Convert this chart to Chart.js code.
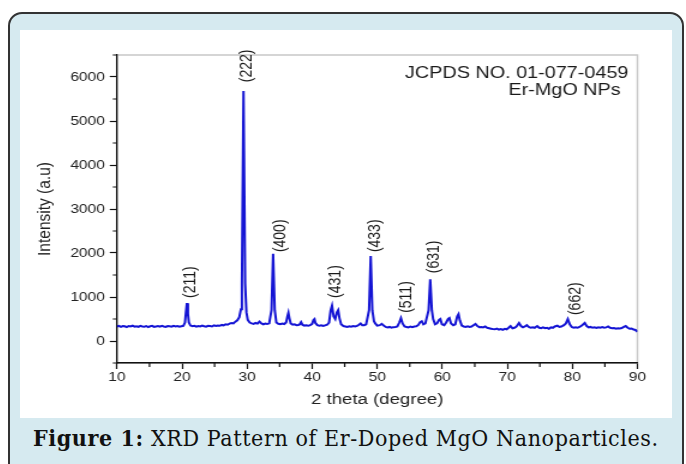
<!DOCTYPE html>
<html>
<head>
<meta charset="utf-8">
<title>XRD Pattern of Er-Doped MgO Nanoparticles</title>
<script src="https://cdn.jsdelivr.net/npm/chart.js@4/dist/chart.umd.min.js"></script>
<style>
  html, body { margin: 0; padding: 0; background: #fff; width: 686px; height: 464px; overflow: hidden; }
  .frame { position: absolute; left: 8px; top: 12px; width: 676px; height: 480px; box-sizing: border-box;
           border: 2px solid #333; border-radius: 14px; background: #d6eaf0; }
  .panel { position: absolute; left: 20px; top: 30px; width: 652px; height: 388px; background: #fff; overflow: hidden; }
  /* the original figure is stretched sideways, so the chart is drawn narrower and scaled */
  .stretch { position: absolute; left: 0; top: 0; width: 544px; height: 388px; transform: scaleX(1.2); transform-origin: 0 0; }
  .caption { position: absolute; left: 33px; top: 424px; font-size: 23px; letter-spacing: 0.6px; color: #111; white-space: nowrap;
             font-family: "DejaVu Serif Condensed", "DejaVu Serif", serif; font-stretch: condensed; }
  .caption b { font-weight: bold; }
</style>
</head>
<body>
<div class="frame"></div>
<div class="panel">
  <div class="stretch"><canvas id="xrdChart" width="544" height="388"></canvas></div>
</div>
<div class="caption"><b>Figure 1:</b> XRD Pattern of Er-Doped MgO Nanoparticles.</div>

<script>
// 2 theta positions (degree)
const twoTheta = [
  10.0, 10.3, 10.6, 10.9, 11.2, 11.5, 11.8, 12.1, 12.4, 12.7,
  13.0, 13.3, 13.6, 13.9, 14.2, 14.5, 14.8, 15.1, 15.4, 15.7,
  16.0, 16.3, 16.6, 16.9, 17.2, 17.5, 17.8, 18.1, 18.4, 18.7,
  19.0, 19.3, 19.6, 19.9, 20.2, 20.45, 20.6, 20.75, 20.9, 21.05,
  21.3, 21.6, 21.9, 22.2, 22.5, 22.8, 23.1, 23.4, 23.7, 24.0,
  24.3, 24.6, 24.9, 25.2, 25.5, 25.8, 26.1, 26.4, 26.7, 27.0,
  27.3, 27.6, 27.9, 28.2, 28.5, 28.8, 29.05, 29.2, 29.45, 29.7,
  29.9, 30.1, 30.4, 30.7, 31.0, 31.3, 31.6, 31.9,
  32.2, 32.5, 32.8, 33.1, 33.4, 33.75, 34.0, 34.25,
  34.5, 34.8, 35.1, 35.4, 35.7, 36.0, 36.2, 36.35, 36.5, 36.7,
  37.0, 37.3, 37.6, 37.9, 38.1, 38.3, 38.5, 38.8, 39.1, 39.4,
  39.7, 40.0, 40.2, 40.35, 40.5, 40.8, 41.1, 41.4, 41.7, 42.0,
  42.3, 42.6, 42.85, 43.05, 43.3, 43.55, 43.8, 44.0, 44.2, 44.45,
  44.8, 45.1, 45.4, 45.7, 46.0, 46.3, 46.6, 46.9, 47.2, 47.45,
  47.7, 48.0, 48.3, 48.75, 49.0, 49.25, 49.5, 49.7, 50.0,
  50.4, 50.7, 51.0, 51.3, 51.6, 51.9, 52.2, 52.5, 52.8, 53.1,
  53.4, 53.65, 53.9, 54.2, 54.5, 54.8, 55.1, 55.4, 55.7, 56.0,
  56.3, 56.6, 56.85, 57.1, 57.4, 57.9, 58.15, 58.4, 58.6,
  58.9, 59.2, 59.5, 59.7, 59.95, 60.3, 60.6, 60.9, 61.1, 61.35,
  61.7, 62.0, 62.3, 62.5, 62.7, 63.0, 63.3, 63.6, 63.9, 64.2,
  64.5, 64.8, 65.1, 65.4, 65.7, 66.0, 66.3, 66.6, 66.9, 67.2,
  67.5, 67.8, 68.1, 68.4, 68.7, 69.0, 69.3, 69.6, 69.9, 70.2,
  70.5, 70.8, 71.1, 71.4, 71.8, 72.1, 72.4, 72.7, 73.0, 73.3,
  73.6, 73.9, 74.2, 74.6, 74.9, 75.2, 75.5, 75.8, 76.1, 76.4,
  76.7, 77.0, 77.3, 77.7, 78.0, 78.3, 78.7, 79.0, 79.3, 79.6,
  79.9, 80.2, 80.5, 80.8, 81.1, 81.5, 81.9, 82.2, 82.5, 82.8,
  83.1, 83.4, 83.7, 84.0, 84.3, 84.6, 84.9, 85.2, 85.5, 85.8,
  86.1, 86.4, 86.7, 87.0, 87.3, 87.6, 87.9, 88.2, 88.5, 88.8,
  89.1, 89.4, 89.7, 90.0
];

// Intensity (a.u), one value per 2 theta position
const intensity = [
  330, 345, 320, 340, 335, 315, 340, 330, 350, 325,
  335, 320, 345, 330, 325, 340, 315, 335, 345, 320,
  330, 340, 325, 345, 330, 320, 340, 335, 325, 345,
  330, 340, 325, 335, 345, 420, 650, 860, 620, 420,
  350, 335, 345, 325, 340, 330, 350, 335, 325, 345,
  340, 330, 355, 340, 350, 345, 365, 355, 380, 370,
  395, 410, 400, 440, 470, 540, 720, 1300, 5680, 1300,
  650, 480, 420, 400, 390, 410, 395, 440,
  400, 380, 395, 385, 400, 700, 1980, 700,
  420, 390, 380, 395, 385, 420, 560, 640, 520, 400,
  370, 380, 360, 365, 380, 430, 370, 350, 355, 345,
  360, 390, 480, 500, 410, 360, 345, 355, 340, 355,
  370, 420, 700, 800, 560, 500, 650, 700, 520, 380,
  340, 330, 320, 335, 325, 340, 330, 345, 370, 400,
  360, 360, 380, 700, 1930, 700, 450, 400, 350,
  360, 390, 350, 320, 310, 320, 305, 315, 320, 330,
  420, 520, 400, 330, 320, 310, 330, 315, 330, 335,
  360, 430, 450, 380, 400, 700, 1400, 700, 500,
  380, 400, 480, 500, 380, 360, 420, 500, 520, 400,
  360, 380, 560, 610, 470, 350, 330, 320, 335, 320,
  330, 360, 390, 340, 315, 320, 310, 330, 300, 290,
  280, 270, 265, 280, 260, 270, 255, 275, 265, 300,
  340, 290, 300, 330, 410, 340, 310, 330, 360, 320,
  300, 310, 300, 340, 300, 290, 310, 290, 300, 280,
  310, 300, 330, 350, 320, 330, 360, 400, 500, 380,
  320, 300, 310, 300, 320, 360, 410, 340, 310, 320,
  300, 310, 295, 310, 300, 315, 300, 310, 330, 300,
  290, 295, 280, 290, 285, 295, 320, 340, 300, 280,
  285, 260, 250, 210
];

// Axis ticks
const xMajorTicks = [10, 20, 30, 40, 50, 60, 70, 80, 90];
const xMinorTicks = [15, 25, 35, 45, 55, 65, 75, 85];
const yMajorTicks = [0, 1000, 2000, 3000, 4000, 5000, 6000];
const yMinorTicks = [-500, 500, 1500, 2500, 3500, 4500, 5500, 6500];

// Miller index labels, anchored at (2 theta, intensity) of their lower end
const peakNames = ['(211)', '(222)', '(400)', '(431)', '(433)', '(511)', '(631)', '(662)'];
const peakLabelX = [21.3, 30.0, 35.1, 43.6, 49.8, 54.6, 58.8, 80.5];
const peakLabelY = [980, 5880, 2020, 980, 2020, 640, 1540, 590];

const noteLines = ['JCPDS NO. 01-077-0459', 'Er-MgO NPs'];

const FONT = '"Liberation Sans", Arial, sans-serif';

// Frame box, minor ticks, hkl labels and the JCPDS note
const decorPlugin = {
    id: 'decor',
    beforeDraw(chart) {
        const { ctx, chartArea: a } = chart;
        ctx.save();
        ctx.strokeStyle = '#c8c8c8';
        ctx.lineWidth = 1.5;
        ctx.strokeRect(a.left, a.top, a.right - a.left, a.bottom - a.top);
        ctx.restore();
    },
    afterDraw(chart) {
        const { ctx, chartArea: a, scales: { x, y } } = chart;
        ctx.save();

        ctx.strokeStyle = '#111';
        ctx.lineWidth = 1.2;
        ctx.beginPath();
        yMinorTicks.forEach(v => {
            const py = y.getPixelForValue(v);
            ctx.moveTo(a.left - 3.5, py);
            ctx.lineTo(a.left, py);
        });
        xMinorTicks.forEach(v => {
            const px = x.getPixelForValue(v);
            ctx.moveTo(px, a.bottom);
            ctx.lineTo(px, a.bottom + 4);
        });
        ctx.stroke();

        ctx.fillStyle = '#1a1a1a';
        ctx.font = '14px ' + FONT;
        ctx.textAlign = 'left';
        ctx.textBaseline = 'middle';
        peakNames.forEach((name, i) => {
            ctx.save();
            ctx.translate(x.getPixelForValue(peakLabelX[i]), y.getPixelForValue(peakLabelY[i]));
            ctx.rotate(-Math.PI / 2);
            ctx.fillText(name, 0, 0);
            ctx.restore();
        });

        ctx.font = '16.5px ' + FONT;
        ctx.textAlign = 'right';
        ctx.textBaseline = 'alphabetic';
        ctx.fillText(noteLines[0], a.right - 7.5, a.top + 23);
        ctx.fillText(noteLines[1], a.right - 14, a.top + 40);
        ctx.restore();
    }
};

Chart.defaults.font.family = FONT;
Chart.defaults.color = '#222';

new Chart(document.getElementById('xrdChart'), {
    type: 'line',
    data: {
        datasets: [{
            data: twoTheta.map((t, i) => ({ x: t, y: intensity[i] })),
            borderColor: '#1414d4',
            borderWidth: 2,
            pointRadius: 0,
            tension: 0,
            fill: false
        }]
    },
    options: {
        responsive: false,
        animation: false,
        layout: { padding: { left: 0, top: 25, right: 29.5, bottom: 0 } },
        plugins: {
            legend: { display: false },
            tooltip: { enabled: false }
        },
        scales: {
            x: {
                type: 'linear',
                min: 10,
                max: 90,
                afterBuildTicks: s => { s.ticks = xMajorTicks.map(v => ({ value: v })); },
                afterFit: s => { s.height = 55; },
                ticks: { font: { size: 13 }, color: '#222', padding: 1, maxRotation: 0, autoSkip: false,
                         callback: v => String(v) },
                grid: { drawOnChartArea: false, tickLength: 6, tickColor: '#111', tickWidth: 1.2 },
                border: { color: '#111', width: 1.5 },
                title: {
                    display: true,
                    text: '2 theta (degree)',
                    color: '#222',
                    font: { size: 15.5 },
                    padding: { top: 0, bottom: 8.7 }
                }
            },
            y: {
                min: -500,
                max: 6500,
                afterBuildTicks: s => { s.ticks = yMajorTicks.map(v => ({ value: v })); },
                afterFit: s => { s.width = 80.8; },
                ticks: { font: { size: 13 }, color: '#222', padding: 4, callback: v => String(v) },
                grid: { drawOnChartArea: false, tickLength: 6, tickColor: '#111', tickWidth: 1.2 },
                border: { color: '#111', width: 1.3 },
                title: {
                    display: true,
                    text: 'Intensity (a.u)',
                    color: '#222',
                    font: { size: 15.5 },
                    padding: { top: 11.5, bottom: 0 }
                }
            }
        }
    },
    plugins: [decorPlugin]
});
</script>
</body>
</html>
